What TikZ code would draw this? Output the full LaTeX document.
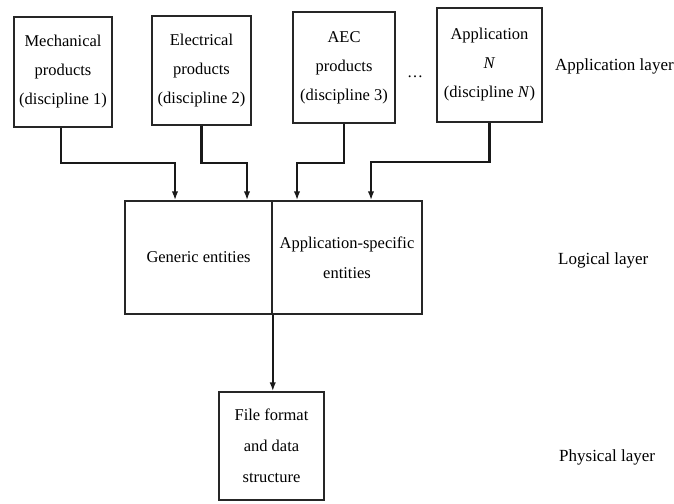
\documentclass[tikz,border=0pt]{standalone}
\usepackage{fontspec}
\setmainfont{Liberation Serif}
\usetikzlibrary{arrows.meta}
\begin{document}
\begin{tikzpicture}[x=1pt,y=-1pt,
  box/.style={draw=black!85,line width=1.7pt,align=center,inner sep=0pt,
    font=\fontsize{16.5}{29}\selectfont},
  conn/.style={draw=black!90,line width=2.8pt,-{Latex[length=9pt,width=6.5pt]}},
  conn2/.style={draw=black!90,line width=2pt,-{Latex[length=9pt,width=6.5pt]}},
  lbl/.style={anchor=west,inner sep=0pt,font=\fontsize{17}{20}\selectfont}]
\useasboundingbox (0,0) rectangle (674,503);
% application layer boxes
\node[box,minimum width=98pt,minimum height=110pt] (m) at (63,72)
  {Mechanical\\products\\(discipline 1)};
\node[box,minimum width=99pt,minimum height=109pt] (e) at (201.5,70.5)
  {Electrical\\products\\(discipline 2)};
\node[box,minimum width=102pt,minimum height=111pt] (a) at (344,67.5)
  {AEC\\products\\(discipline 3)};
\node[box,minimum width=105pt,minimum height=114pt] (n) at (489.5,65)
  {Application\\\textit{N}\\(discipline \textit{N})};
\node[font=\fontsize{16}{20}\selectfont,inner sep=0pt] (dots) at (415,77) {\dots};
% logical layer
\node[box,line width=1.5pt,minimum width=147pt,minimum height=113pt,
  font=\fontsize{16.5}{30}\selectfont] (gen) at (198.5,257.5) {Generic entities};
\node[box,line width=1.5pt,minimum width=150pt,minimum height=113pt,
  font=\fontsize{16.5}{30}\selectfont] (spec) at (347,257.5) {Application-specific\\entities};
% physical layer
\node[box,line width=1.5pt,minimum width=105pt,minimum height=108pt,
  font=\fontsize{16.5}{31}\selectfont] (phys) at (271.5,446) {File format\\and data\\structure};
% layer labels
\node[lbl] (l1) at (555,66) {Application layer};
\node[lbl] (l2) at (558,260) {Logical layer};
\node[lbl] (l3) at (559,457) {Physical layer};
% connectors
\coordinate (j1) at (175,163);
\coordinate (j2) at (247,163);
\coordinate (j3) at (297,163);
\coordinate (j4) at (371,162);
\draw[conn] ([xshift=-2pt]m.south) |- (j1) -- (j1 |- gen.north);
\draw[conn] (e.south) |- (j2) -- (j2 |- gen.north);
\draw[conn] (a.south) |- (j3) -- (j3 |- spec.north);
\draw[conn] (n.south) |- (j4) -- (j4 |- spec.north);
\draw[conn2] (gen.south east) -- (gen.south east |- phys.north);
\end{tikzpicture}
\end{document}
